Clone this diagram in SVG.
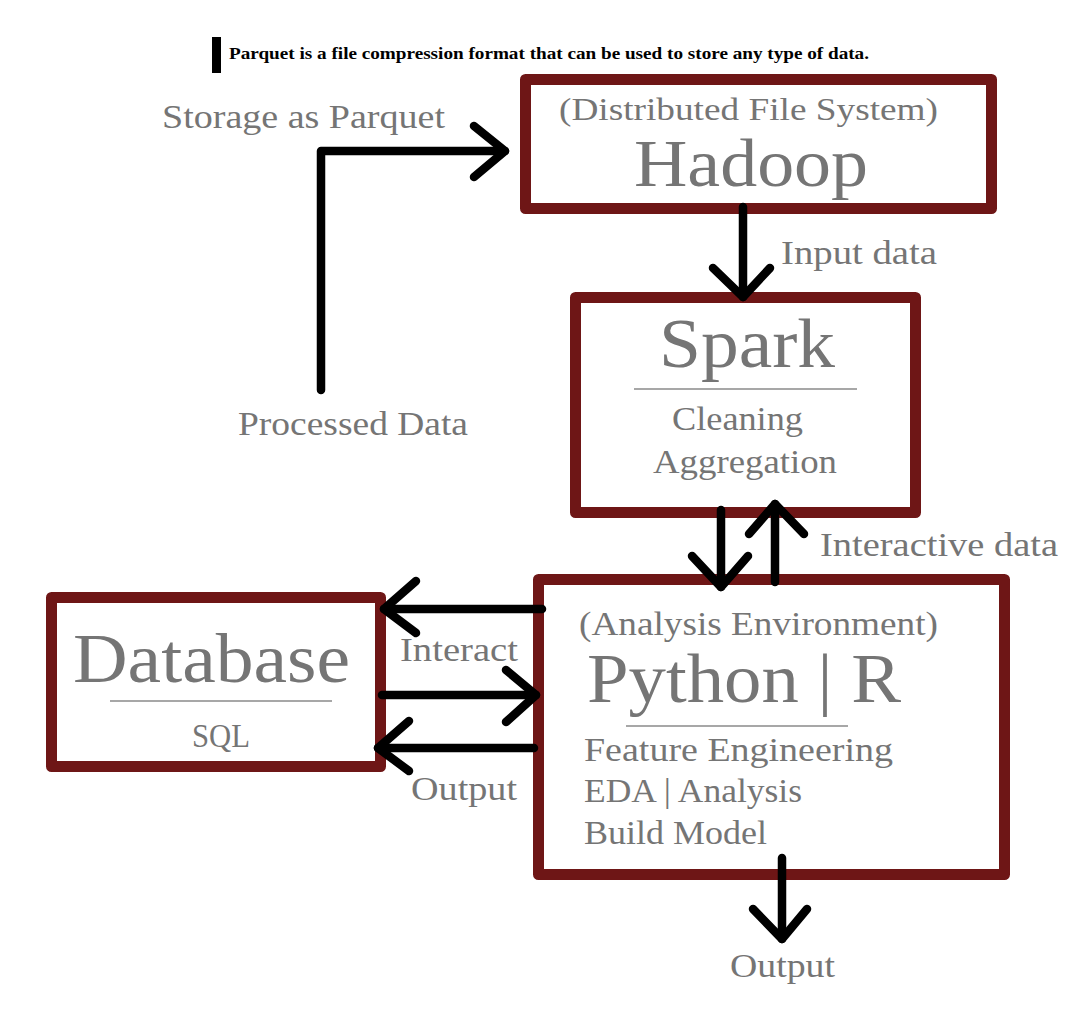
<svg xmlns="http://www.w3.org/2000/svg" width="1072" height="1015" viewBox="0 0 1072 1015">
<style>
.box{fill:#ffffff;stroke:#6e1616;stroke-width:11;stroke-linejoin:round}
.t{font-family:"Liberation Serif","DejaVu Serif",serif;fill:#757575}
.lbl{font-size:33px}
.big{font-size:70px}
.div{stroke:#8a8a8a;stroke-width:1.5}
.note{font-family:"Liberation Serif","DejaVu Serif",serif;font-weight:bold;font-size:17px;fill:#000000}
.c{fill:none;stroke:#000000;stroke-width:8.5;stroke-linecap:round;stroke-linejoin:round}
</style>
<rect width="1072" height="1015" fill="#ffffff"/>
<g id="note">
<rect x="212" y="37" width="9" height="36" fill="#000000"/>
<text class="note" x="229" y="59" textLength="640" lengthAdjust="spacingAndGlyphs">Parquet is a file compression format that can be used to store any type of data.</text>
</g>
<g id="hadoop">
<rect class="box" x="525.5" y="79.5" width="466" height="129"/>
<text class="t" style="font-size:32px" x="559" y="120" textLength="379" lengthAdjust="spacingAndGlyphs">(Distributed File System)</text>
<text class="t" style="font-size:67px" x="634" y="186" textLength="234" lengthAdjust="spacingAndGlyphs">Hadoop</text>
</g>
<g id="spark">
<rect class="box" x="575.5" y="297.5" width="340" height="215"/>
<text class="t big" x="659" y="367" textLength="176" lengthAdjust="spacingAndGlyphs">Spark</text>
<line class="div" x1="634" y1="389" x2="857" y2="389"/>
<text class="t lbl" x="672" y="430" textLength="131" lengthAdjust="spacingAndGlyphs">Cleaning</text>
<text class="t lbl" x="653" y="473" textLength="184" lengthAdjust="spacingAndGlyphs">Aggregation</text>
</g>
<g id="database">
<rect class="box" x="51.5" y="597.5" width="329" height="169"/>
<text class="t big" x="73" y="682" textLength="277" lengthAdjust="spacingAndGlyphs">Database</text>
<line class="div" x1="110" y1="701" x2="332" y2="701"/>
<text class="t lbl" x="192" y="747" textLength="58" lengthAdjust="spacingAndGlyphs">SQL</text>
</g>
<g id="python">
<rect class="box" x="538.5" y="579.5" width="466" height="295"/>
<text class="t lbl" x="579" y="635" textLength="359" lengthAdjust="spacingAndGlyphs">(Analysis Environment)</text>
<text class="t big" x="587" y="702" textLength="314" lengthAdjust="spacingAndGlyphs">Python | R</text>
<line class="div" x1="626" y1="726" x2="848" y2="726"/>
<text class="t lbl" x="584" y="761" textLength="309" lengthAdjust="spacingAndGlyphs">Feature Engineering</text>
<text class="t lbl" x="584" y="802" textLength="218" lengthAdjust="spacingAndGlyphs">EDA | Analysis</text>
<text class="t lbl" x="584" y="844" textLength="183" lengthAdjust="spacingAndGlyphs">Build Model</text>
</g>
<g id="connectors">
<polyline class="c" points="321,390 321,151 505,151"/>
<polyline class="c" points="474,126 505,151 474,177"/>
<line class="c" x1="743" y1="207" x2="743" y2="297"/>
<polyline class="c" points="713,268 743,297 770,268"/>
<line class="c" x1="721" y1="510" x2="721" y2="587"/>
<polyline class="c" points="692,556 721,587 748,556"/>
<line class="c" x1="775" y1="582" x2="775" y2="504"/>
<polyline class="c" points="749,534 775,504 804,534"/>
<line class="c" x1="542" y1="609" x2="384" y2="609"/>
<polyline class="c" points="416,581 384,609 416,633"/>
<line class="c" x1="382" y1="695" x2="536" y2="695"/>
<polyline class="c" points="506,670 536,695 506,722"/>
<line class="c" x1="534" y1="748" x2="378" y2="748"/>
<polyline class="c" points="409,721 378,748 409,771"/>
<line class="c" x1="782" y1="858" x2="782" y2="939"/>
<polyline class="c" points="753,909 782,939 807,909"/>
</g>
<g id="labels">
<text class="t lbl" x="162" y="128" textLength="283" lengthAdjust="spacingAndGlyphs">Storage as Parquet</text>
<text class="t lbl" x="238" y="435" textLength="230" lengthAdjust="spacingAndGlyphs">Processed Data</text>
<text class="t lbl" x="781" y="264" textLength="156" lengthAdjust="spacingAndGlyphs">Input data</text>
<text class="t lbl" x="820" y="556" textLength="238" lengthAdjust="spacingAndGlyphs">Interactive data</text>
<text class="t lbl" x="400" y="661" textLength="118" lengthAdjust="spacingAndGlyphs">Interact</text>
<text class="t lbl" x="411" y="800" textLength="106" lengthAdjust="spacingAndGlyphs">Output</text>
<text class="t lbl" x="730" y="977" textLength="105" lengthAdjust="spacingAndGlyphs">Output</text>
</g>
</svg>
